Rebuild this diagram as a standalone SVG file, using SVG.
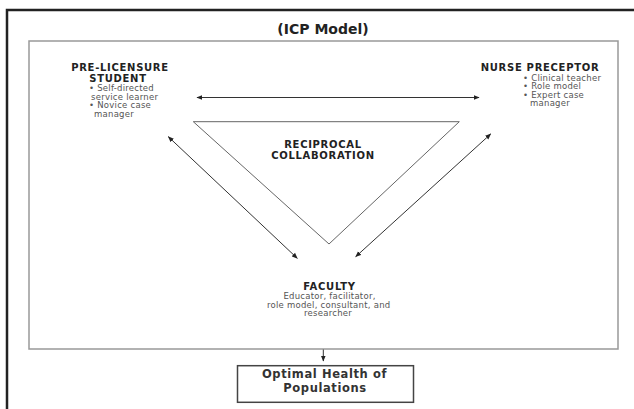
<svg xmlns="http://www.w3.org/2000/svg" width="634" height="409" viewBox="0 0 634 409">
<defs>
<marker id="ah" viewBox="0 0 10 10" refX="9" refY="5" markerWidth="6" markerHeight="6" markerUnits="userSpaceOnUse" orient="auto-start-reverse">
<path d="M0,1 L10,5 L0,9 z" fill="#222"/>
</marker>
<style>
.h{font-family:"DejaVu Sans",Verdana,sans-serif;font-weight:bold;font-size:10px;letter-spacing:0.7px;fill:#222}
.b{font-family:"DejaVu Sans",Verdana,sans-serif;font-size:8.5px;letter-spacing:0.25px;fill:#555}
.t{font-family:"DejaVu Sans",Verdana,sans-serif;font-weight:bold;font-size:14px;fill:#222}
.o{font-family:"DejaVu Sans",Verdana,sans-serif;font-weight:bold;font-size:11.5px;letter-spacing:0.6px;fill:#333}
.ln{stroke:#333;stroke-width:1;fill:none}
</style>
</defs>
<rect width="634" height="409" fill="#fff"/>
<g id="frame">
<rect x="7" y="10" width="700" height="500" fill="none" stroke="#222" stroke-width="2.5"/>
<text class="t" x="323" y="34" text-anchor="middle">(ICP Model)</text>
<rect x="29" y="41" width="589" height="308" fill="none" stroke="#999" stroke-width="1.5"/>
</g>
<g id="student">
<text class="h" x="120" y="70.5" text-anchor="middle">PRE-LICENSURE</text>
<text class="h" x="118" y="81.5" text-anchor="middle">STUDENT</text>
<text class="b" x="89" y="91">• Self-directed</text>
<text class="b" x="91" y="99.6">service learner</text>
<text class="b" x="89" y="108.2">• Novice case</text>
<text class="b" x="94" y="116.8">manager</text>
</g>
<g id="preceptor">
<text class="h" x="540" y="70.5" text-anchor="middle">NURSE PRECEPTOR</text>
<text class="b" x="523" y="80.5">• Clinical teacher</text>
<text class="b" x="523" y="89">• Role model</text>
<text class="b" x="523" y="97.5">• Expert case</text>
<text class="b" x="530" y="106">manager</text>
</g>
<g id="collaboration">
<polygon points="193.3,121.7 459.3,121.7 329,244" fill="none" stroke="#666" stroke-width="1"/>
<text class="h" x="323" y="147.5" text-anchor="middle">RECIPROCAL</text>
<text class="h" x="323" y="158.5" text-anchor="middle">COLLABORATION</text>
</g>
<g id="faculty">
<text class="h" x="329.5" y="290" text-anchor="middle">FACULTY</text>
<text class="b" x="329.5" y="299.2" text-anchor="middle">Educator, facilitator,</text>
<text class="b" x="328.7" y="307.8" text-anchor="middle">role model, consultant, and</text>
<text class="b" x="328" y="316.4" text-anchor="middle">researcher</text>
</g>
<g id="outcome">
<rect x="237.5" y="365.7" width="176" height="36.6" fill="#fff" stroke="#444" stroke-width="1.5"/>
<text class="o" x="324.5" y="378" text-anchor="middle">Optimal Health of</text>
<text class="o" x="325" y="391.6" text-anchor="middle">Populations</text>
</g>
<g id="connectors">
<line class="ln" x1="197" y1="97.5" x2="479" y2="97.5" marker-start="url(#ah)" marker-end="url(#ah)"/>
<line class="ln" x1="168.3" y1="136.7" x2="297.3" y2="258.3" marker-start="url(#ah)" marker-end="url(#ah)"/>
<line class="ln" x1="355.7" y1="256.7" x2="490.7" y2="134" marker-start="url(#ah)" marker-end="url(#ah)"/>
<line class="ln" x1="323.3" y1="349.5" x2="323.3" y2="361" marker-end="url(#ah)"/>
</g>
</svg>
